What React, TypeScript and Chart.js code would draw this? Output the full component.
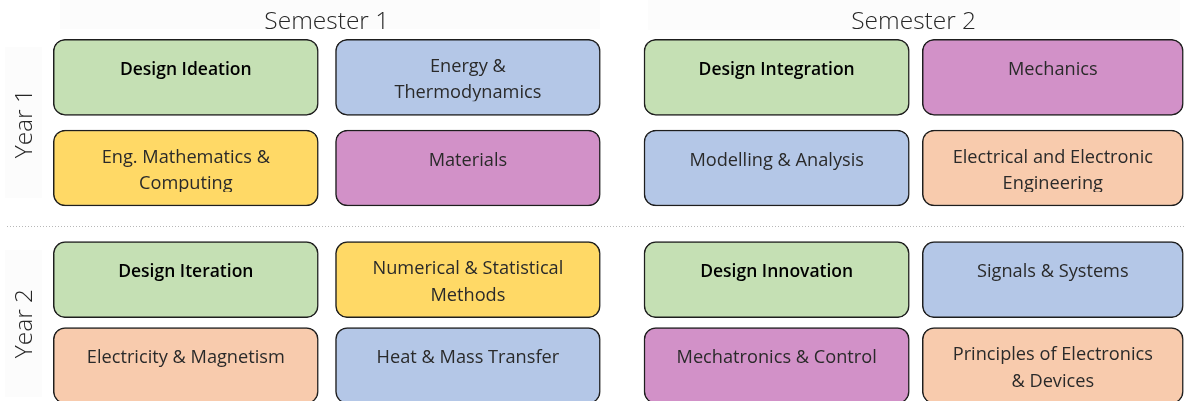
import { useEffect, useRef } from 'react';
import { Chart, registerables } from 'chart.js';

Chart.register(...registerables);

// ---------- DATA ----------
const semesters = ['Semester 1', 'Semester 2'];
const years = ['Year 1', 'Year 2'];
// column slots: two per semester
const slotSemester = [0, 0, 1, 1];
// module titles, one list per row (Year 1 top / bottom, Year 2 top / bottom)
const year1TopModules = ['Design Ideation', 'Energy &\nThermodynamics', 'Design Integration', 'Mechanics'];
const year1BottomModules = ['Eng. Mathematics &\nComputing', 'Materials', 'Modelling & Analysis', 'Electrical and Electronic\nEngineering'];
const year2TopModules = ['Design Iteration', 'Numerical & Statistical\nMethods', 'Design Innovation', 'Signals & Systems'];
const year2BottomModules = ['Electricity & Magnetism', 'Heat & Mass Transfer', 'Mechatronics & Control', 'Principles of Electronics\n& Devices'];
// theme of each module
const year1TopThemes = ['design', 'thermo', 'design', 'solids'];
const year1BottomThemes = ['maths', 'solids', 'thermo', 'electrical'];
const year2TopThemes = ['design', 'maths', 'design', 'thermo'];
const year2BottomThemes = ['electrical', 'thermo', 'solids', 'electrical'];
const rowYear = [0, 0, 1, 1];

const rowModules = [year1TopModules, year1BottomModules, year2TopModules, year2BottomModules];
const rowThemes = [year1TopThemes, year1BottomThemes, year2TopThemes, year2BottomThemes];

// ---------- STYLE / LAYOUT ----------
const THEME_COLORS: Record<string, string> = {
  design: '#C5E0B4',
  thermo: '#B4C7E7',
  maths: '#FFD966',
  solids: '#D291C8',
  electrical: '#F8CBAD',
};
const BOLD_THEME = 'design';
const LAYOUT = {
  width: 1184,
  height: 401,
  colLeft: [53.3, 335.5, 644, 922.3],
  colRight: [318.3, 600.3, 909.3, 1183.3],
  rowTop: [39.3, 130, 241.7, 327.5],
  rowHeight: 76,
  dividerY: 226.5,
  radius: 12,
  // faint header panels [x0, y0, x1, y1]
  semesterPanels: [[60, 0, 600, 29], [648, 0, 1180, 30]],
  yearPanels: [[5, 47, 42, 198], [5, 250, 42, 397]],
};
const FONT = '"Open Sans", "Noto Sans", sans-serif';

const labelPlugin = {
  id: 'moduleLabels',
  beforeDatasetsDraw(chart: any) {
    const ctx = chart.ctx;
    const xs = chart.scales.x;
    const ys = chart.scales.y;
    const metas = slotSemester.map((_, s) => chart.getDatasetMeta(s));
    const box = (el: any) => {
      const p = el.getProps(['x', 'y', 'base', 'height'], true);
      return { l: Math.min(p.x, p.base), r: Math.max(p.x, p.base), t: p.y - p.height / 2, b: p.y + p.height / 2 };
    };
    ctx.save();
    // faint header panels
    ctx.fillStyle = '#fcfcfc';
    [...LAYOUT.semesterPanels, ...LAYOUT.yearPanels].forEach(([x0, y0, x1, y1]) => {
      const px0 = xs.getPixelForValue(x0);
      const px1 = xs.getPixelForValue(x1);
      const py0 = ys.getPixelForValue(y0);
      const py1 = ys.getPixelForValue(y1);
      ctx.fillRect(px0, py0, px1 - px0, py1 - py0);
    });
    // semester headers
    ctx.fillStyle = '#262626';
    ctx.font = `300 24.5px ${FONT}`;
    ctx.textAlign = 'center';
    ctx.textBaseline = 'middle';
    semesters.forEach((name, si) => {
      const slots = slotSemester.map((s, i) => (s === si ? i : -1)).filter((i) => i >= 0);
      const a = box(metas[slots[0]].data[0]);
      const b = box(metas[slots[slots.length - 1]].data[0]);
      ctx.fillText(name, (a.l + b.r) / 2, a.t / 2 + 2);
    });
    // year labels
    years.forEach((name, yi) => {
      const rows = rowYear.map((y, i) => (y === yi ? i : -1)).filter((i) => i >= 0);
      const a = box(metas[0].data[rows[0]]);
      const b = box(metas[0].data[rows[rows.length - 1]]);
      ctx.save();
      ctx.translate(a.l / 2 - 2, (a.t + b.b) / 2 + 1);
      ctx.rotate(-Math.PI / 2);
      ctx.fillText(name, 0, 0);
      ctx.restore();
    });
    // dotted divider between the years
    const yPix = ys.getPixelForValue(LAYOUT.dividerY);
    ctx.strokeStyle = '#b8b8b8';
    ctx.lineWidth = 1;
    ctx.setLineDash([1, 2]);
    ctx.beginPath();
    ctx.moveTo(7, Math.round(yPix) + 0.5);
    ctx.lineTo(chart.width, Math.round(yPix) + 0.5);
    ctx.stroke();
    ctx.restore();
  },
  afterDatasetsDraw(chart: any) {
    const ctx = chart.ctx;
    slotSemester.forEach((_, s) => {
      const meta = chart.getDatasetMeta(s);
      meta.data.forEach((el: any, r: number) => {
        const p = el.getProps(['x', 'y', 'base', 'height'], true);
        const l = Math.min(p.x, p.base);
        const w = Math.abs(p.x - p.base);
        const t = p.y - p.height / 2;
        const theme = rowThemes[r][s];
        const lines = rowModules[r][s].split('\n');
        ctx.save();
        ctx.beginPath();
        ctx.rect(l, t, w, p.height - 14);
        ctx.clip();
        ctx.textAlign = 'center';
        ctx.textBaseline = 'middle';
        if (theme === BOLD_THEME) {
          ctx.font = `600 17.5px ${FONT}`;
          ctx.fillStyle = '#000';
        } else {
          ctx.font = `400 18.2px ${FONT}`;
          ctx.fillStyle = '#2a2a2a';
        }
        const cx = l + w / 2;
        if (lines.length === 1) {
          ctx.fillText(lines[0], cx, t + 30.5);
        } else {
          ctx.fillText(lines[0], cx, t + 27.5);
          ctx.fillText(lines[1], cx, t + 54);
        }
        ctx.restore();
      });
    });
  },
};

export default function App() {
  const ref = useRef<HTMLCanvasElement>(null);
  useEffect(() => {
    if (!ref.current) return;
    const datasets = slotSemester.map((_, s) => ({
      label: `slot ${s + 1}`,
      data: rowModules.map((_, r) => ({
        x: [LAYOUT.colLeft[s], LAYOUT.colRight[s]],
        y: LAYOUT.rowTop[r] + LAYOUT.rowHeight / 2,
      })),
      backgroundColor: rowThemes.map((row) => THEME_COLORS[row[s]]),
      borderColor: '#1e1e1e',
      borderWidth: 1.5,
      borderRadius: LAYOUT.radius,
      borderSkipped: false,
      barThickness: LAYOUT.rowHeight,
      grouped: false,
    }));
    const chart = new Chart(ref.current, {
      type: 'bar',
      data: { datasets } as any,
      options: {
        indexAxis: 'y',
        responsive: false,
        animation: false,
        layout: { padding: 0 },
        plugins: { legend: { display: false }, tooltip: { enabled: false } },
        scales: {
          x: { type: 'linear', min: 0, max: LAYOUT.width, offset: false, display: false },
          y: { type: 'linear', min: 0, max: LAYOUT.height, reverse: true, offset: false, display: false },
        },
      } as any,
      plugins: [labelPlugin],
    });
    return () => chart.destroy();
  }, []);
  return (
    <div style={{ position: 'absolute', left: 0, top: 0, width: LAYOUT.width, height: LAYOUT.height, background: '#fff' }}>
      <canvas ref={ref} width={LAYOUT.width} height={LAYOUT.height} />
    </div>
  );
}
